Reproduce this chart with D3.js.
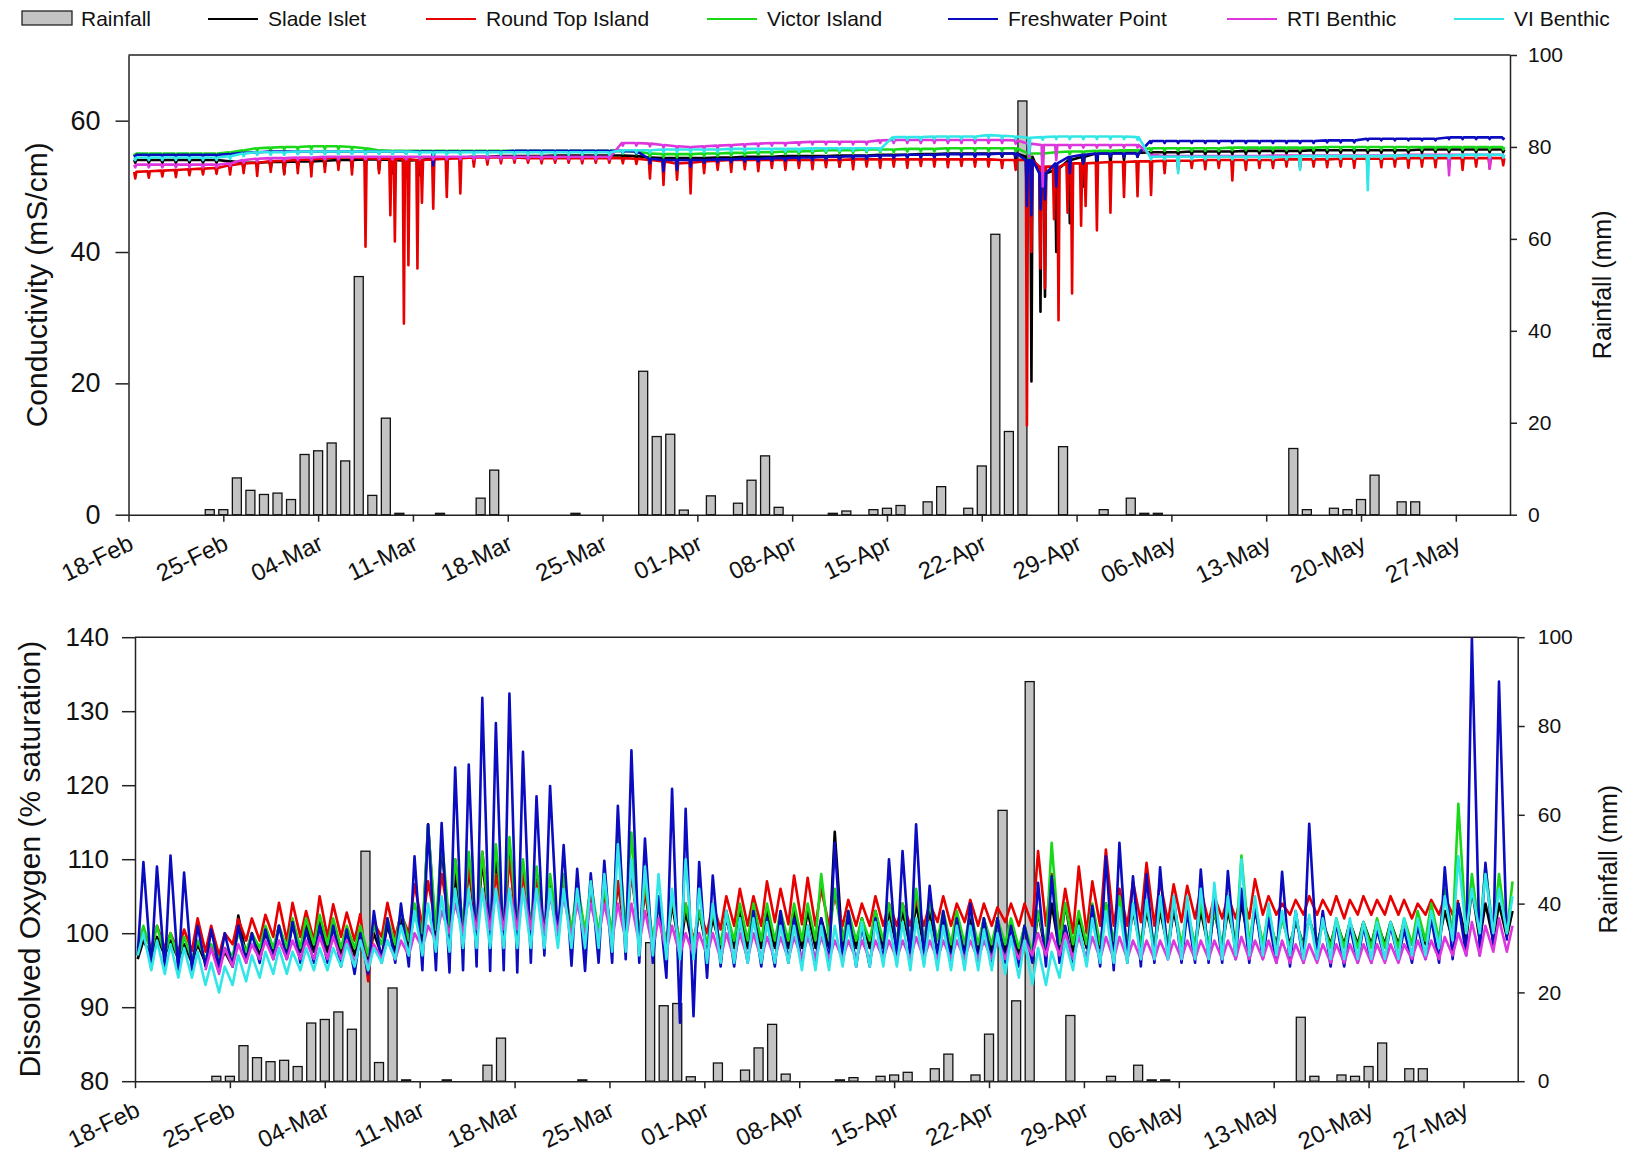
<!DOCTYPE html>
<html>
<head>
<meta charset="utf-8">
<script src="https://cdn.jsdelivr.net/npm/d3@7"></script>
<style>
  body { margin: 0; background: #fff; }
  svg { display: block; font-family: "Liberation Sans", Arial, sans-serif; }
</style>
</head>
<body>
<svg id="chart" width="1625" height="1157"></svg>
<script>
// ---------- time frame ----------
const START = "2019-02-18";
const END = "2019-05-31";
const tickDates = ["2019-02-18","2019-02-25","2019-03-04","2019-03-11","2019-03-18","2019-03-25",
  "2019-04-01","2019-04-08","2019-04-15","2019-04-22","2019-04-29","2019-05-06","2019-05-13",
  "2019-05-20","2019-05-27"];

// ---------- daily rainfall (mm) ----------
const rainDates = ["2019-02-24","2019-02-25","2019-02-26","2019-02-27","2019-02-28","2019-03-01","2019-03-02",
  "2019-03-03","2019-03-04","2019-03-05","2019-03-06","2019-03-07","2019-03-08","2019-03-09","2019-03-10",
  "2019-03-13","2019-03-16","2019-03-17","2019-03-23","2019-03-28","2019-03-29","2019-03-30","2019-03-31",
  "2019-04-02","2019-04-04","2019-04-05","2019-04-06","2019-04-07","2019-04-11","2019-04-12","2019-04-14",
  "2019-04-15","2019-04-16","2019-04-18","2019-04-19","2019-04-21","2019-04-22","2019-04-23","2019-04-24",
  "2019-04-25","2019-04-28","2019-05-01","2019-05-03","2019-05-04","2019-05-05","2019-05-15","2019-05-16",
  "2019-05-18","2019-05-19","2019-05-20","2019-05-21","2019-05-23","2019-05-24"];
const rainMM = [1.1,1.1,8.0,5.3,4.4,4.7,3.3,
  13.1,13.9,15.6,11.7,51.8,4.2,21.0,0.3,
  0.3,3.6,9.7,0.3,31.2,17.0,17.5,1.0,
  4.1,2.5,7.5,12.8,1.6,0.3,0.8,1.1,
  1.4,2.0,2.8,6.1,1.4,10.6,61.0,18.1,
  90.0,14.8,1.1,3.6,0.3,0.3,14.4,1.1,
  1.4,1.1,3.3,8.6,2.8,2.8];

// ---------- sites ----------
const siteNames = ["Slade Islet","Round Top Island","Victor Island","Freshwater Point","RTI Benthic","VI Benthic"];
const siteColors = ["#000000","#e80000","#18d818","#0b0bc0","#dc36dc","#30e6e6"];

// ---------- conductivity (mS/cm), one entry per day from 18-Feb ----------
// *Hi = daily upper level, *Lo = daily low(s) (several lows in a day given as a list)
const condSladeHi = [54.0,54.0,54.0,54.0,54.0,54.0,54.0, 53.8,53.6,53.6,53.7,53.7,53.8,53.8,
  53.9,54.0,54.0,54.1,54.1,54.0,53.9, 54.0,54.2,54.3,54.4,54.5,54.5,54.6,
  54.6,54.6,54.6,54.7,54.7,54.7,54.7, 54.7,54.7,54.6,54.4,54.3,54.3,54.3,
  54.3,54.4,54.4,54.5,54.5,54.5,54.6, 54.6,54.6,54.6,54.7,54.7,54.7,54.8,
  54.8,54.8,54.9,54.9,55.0,55.0,55.0, 55.0,55.0,55.0,54.5,52.0,52.5,54.0,
  54.5,55.0,55.0,55.1,55.1,55.2,55.2, 55.2,55.3,55.3,55.3,55.3,55.4,55.4,
  55.4,55.4,55.4,55.5,55.5,55.5,55.5, 55.5,55.5,55.5,55.5,55.6,55.6,55.6,
  55.6,55.6,55.6,55.6];
const condSladeLo = [53.6,53.6,53.6,53.6,53.6,53.6,53.6, 52.8,52.6,53.0,52.8,52.0,53.0,52.8,
  53.0,53.2,52.8,53.0,52.5,52.0,51.5, 51.7,53.0,53.5,53.8,54.0,54.0,54.1,
  54.1,54.1,54.2,54.2,54.2,54.2,54.2, 54.2,54.2,54.0,52.7,53.0,53.2,53.5,
  53.8,53.9,53.9,54.0,54.0,54.0,54.1, 54.1,54.1,54.0,53.0,54.2,54.2,54.3,
  54.3,54.3,54.4,54.4,54.5,54.5,54.5, 54.5,54.5,54.0,[47.7,20.3],[30.9,33.2],40.0,44.4,
  50.0,52.0,53.5,54.0,54.5,54.7,54.7, 54.8,54.8,54.8,54.9,54.9,54.9,55.0,
  55.0,55.0,55.0,55.0,55.1,55.1,55.1, 55.1,55.1,55.1,55.1,55.1,55.2,55.2,
  55.2,55.2,55.2,55.2];

const condRoundHi = [52.2,52.3,52.4,52.5,52.6,52.7,52.8, 53.2,53.5,53.6,53.8,53.9,54.0,54.1,
  54.3,54.4,54.4,54.3,54.2,54.2,54.1, 54.0,54.1,54.2,54.3,54.4,54.4,54.4,
  54.4,54.3,54.3,54.3,54.3,54.3,54.3, 54.3,54.3,54.2,54.0,53.8,53.5,53.6,
  53.8,53.9,54.0,54.0,54.0,54.0,54.0, 54.0,54.0,54.0,54.0,54.1,54.1,54.1,
  54.1,54.1,54.1,54.1,54.1,54.1,54.1, 54.1,54.0,54.0,54.0,53.0,53.0,53.5,
  53.5,53.6,53.7,53.7,53.8,53.8,53.9, 53.9,53.9,54.0,54.0,54.0,54.0,54.0,
  54.0,54.1,54.1,54.1,54.1,54.2,54.2, 54.2,54.2,54.2,54.3,54.3,54.3,54.3,
  54.3,54.3,54.3,54.3];
const condRoundLo = [51.2,51.3,51.5,51.4,51.7,51.8,51.9, 51.8,52.0,51.6,52.2,51.8,52.0,51.5,
  52.2,52.5,51.8,40.8,52.0,[45.6,41.6],[29.1,38.0], [37.5,47.5],46.6,48.4,48.9,53.0,53.3,53.5,
  53.6,53.6,53.5,53.6,53.6,53.5,53.6, 53.6,53.5,53.4,51.2,50.2,51.0,48.9,
  52.0,52.5,52.2,52.6,52.3,52.8,52.5, 52.8,52.6,52.9,53.0,52.6,53.0,52.8,
  53.0,52.8,53.1,53.0,52.9,53.1,53.0, 53.0,52.8,52.5,[13.6,40.0],[37.5,34.5],[45.0,29.6],[46.0,33.7],
  [44.0,47.0],43.3,46.0,48.4,48.5,48.7,52.0, 52.5,52.8,52.6,52.8,50.9,52.5,52.8,
  52.8,53.0,52.8,53.0,52.9,53.0,52.8, 53.0,52.9,53.0,52.8,53.0,52.9,53.0,
  52.5,53.0,52.7,53.2];

const condVictorHi = [55.0,55.0,55.0,55.0,55.0,55.0,55.0, 55.2,55.5,55.8,55.9,56.0,56.0,56.1,
  56.1,56.1,56.0,55.8,55.5,55.4,55.4, 55.4,55.4,55.4,55.4,55.4,55.4,55.4,
  55.4,55.4,55.4,55.4,55.4,55.4,55.4, 55.4,55.4,55.3,55.0,54.9,54.9,54.9,
  55.0,55.0,55.1,55.1,55.2,55.2,55.3, 55.3,55.4,55.5,55.5,55.5,55.6,55.6,
  55.6,55.7,55.7,55.7,55.8,55.8,55.8, 55.8,55.8,55.8,55.0,55.0,55.2,55.3,
  55.3,55.4,55.4,55.5,55.5,55.8,55.8, 55.8,55.8,55.8,55.8,55.9,55.9,55.9,
  55.9,55.9,55.9,55.9,56.0,56.0,56.0, 56.0,56.0,56.0,56.0,56.0,56.0,56.0,
  56.0,56.0,56.0,56.0];
const condVictorLo = [54.6,54.6,54.6,54.6,54.6,54.6,54.6, 54.8,55.1,55.4,55.5,55.6,55.6,55.7,
  55.7,55.7,55.6,55.4,55.1,55.0,55.0, 55.0,55.0,55.0,55.0,55.0,55.0,55.0,
  55.0,55.0,55.0,55.0,55.0,55.0,55.0, 55.0,55.0,54.9,54.5,54.4,54.4,54.4,
  54.6,54.6,54.7,54.7,54.8,54.8,54.9, 54.9,55.0,55.1,55.1,55.1,55.2,55.2,
  55.2,55.3,55.3,55.3,55.4,55.4,55.4, 55.4,55.4,55.3,53.0,54.0,54.7,54.9,
  54.9,55.0,55.0,55.1,55.1,55.4,55.4, 55.4,55.4,55.4,55.4,55.5,55.5,55.5,
  55.5,55.5,55.5,55.5,55.6,55.6,55.6, 55.6,55.6,55.6,55.6,55.6,55.6,55.6,
  55.6,55.6,55.6,55.6];

const condFreshHi = [54.8,54.8,54.8,54.8,54.8,54.8,54.8, 54.9,55.1,55.2,55.3,55.3,55.3,55.3,
  55.3,55.3,55.3,55.3,55.3,55.3,55.3, 55.3,55.3,55.3,55.3,55.3,55.3,55.3,
  55.4,55.4,55.4,55.4,55.4,55.4,55.4, 55.4,55.4,55.3,54.2,54.0,54.0,54.0,
  54.0,54.1,54.1,54.2,54.2,54.3,54.3, 54.4,54.4,54.5,54.5,54.6,54.6,54.7,
  54.7,54.8,54.8,54.8,54.9,54.9,54.9, 54.9,55.0,55.0,54.0,52.0,53.5,54.5,
  54.8,55.0,55.0,55.0,55.0,56.9,56.9, 56.9,56.9,56.9,56.9,56.9,56.9,56.9,
  56.9,56.9,56.9,56.9,57.0,57.0,57.0, 57.25,57.25,57.25,57.25,57.25,57.25,57.45,
  57.45,57.45,57.45,57.45];
const condFreshLo = [54.5,54.5,54.5,54.5,54.5,54.5,54.5, 54.6,54.8,54.9,55.0,55.0,55.0,55.0,
  55.0,55.0,55.0,55.0,55.0,55.0,55.0, 55.0,53.2,55.0,55.0,55.0,55.0,55.0,
  55.1,55.1,55.1,55.1,55.1,55.1,55.1, 55.1,55.1,55.0,53.5,52.3,52.5,53.0,
  53.6,53.7,53.7,53.8,53.8,53.9,53.9, 54.0,54.0,54.1,54.1,54.2,54.2,54.3,
  54.3,54.4,54.4,54.4,54.5,54.5,54.5, 54.5,54.6,54.5,[47.0,45.6],[46.5,48.0],50.0,52.0,
  53.5,54.0,54.5,54.5,54.5,56.6,56.6, 56.6,56.6,56.6,56.6,56.6,56.6,56.6,
  56.6,56.6,56.6,56.6,56.7,56.7,56.7, 57.0,57.0,57.0,57.0,57.0,57.0,57.2,
  57.2,57.2,57.2,57.2];

const condRTIHi = [53.3,53.3,53.3,53.3,53.3,53.3,53.3, 53.5,54.0,54.2,54.3,54.3,54.4,54.4,
  54.5,54.5,54.5,54.5,54.5,54.5,54.5, 54.5,54.5,54.5,54.5,54.5,54.5,54.5,
  54.5,54.5,54.5,54.5,54.5,54.5,54.5, 54.5,56.6,56.6,56.5,56.3,56.1,56.0,
  56.1,56.2,56.3,56.4,56.5,56.6,56.6, 56.7,56.8,56.8,56.8,56.8,56.8,57.0,
  57.05,57.05,57.05,57.05,57.05,57.05,57.05, 57.05,57.05,57.0,56.5,56.3,56.3,56.3,
  56.3,56.3,56.3,56.3,56.3,54.8,54.6, 54.6,54.6,54.6,54.6,54.6,54.6,54.6,
  54.7,54.7,54.7,54.7,54.7,54.7,54.7, 54.7,54.7,54.7,54.8,54.8,54.8,54.8,
  54.8,54.8,54.8,54.8];
const condRTILo = [52.9,52.9,52.9,52.9,52.9,52.9,52.9, 53.1,53.6,53.8,53.9,53.9,54.0,54.0,
  54.1,54.1,54.1,54.1,54.1,54.1,54.1, 54.1,54.1,54.1,54.1,54.1,54.1,54.1,
  54.1,54.1,54.1,54.1,54.1,54.1,54.1, 54.1,56.2,56.2,56.1,55.9,55.7,55.6,
  55.7,55.8,55.9,56.0,56.1,56.2,56.2, 56.3,56.4,56.4,56.4,56.4,56.4,56.6,
  56.6,56.6,56.6,56.6,56.6,56.6,56.6, 56.6,56.6,56.5,54.5,50.0,54.0,55.8,
  55.9,55.9,55.9,55.9,55.9,54.4,54.2, 54.2,54.2,54.2,54.2,54.2,54.2,54.2,
  54.3,54.3,54.3,54.3,54.3,54.3,54.3, 54.3,54.3,54.3,54.4,54.4,54.4,51.7,
  54.4,54.4,52.7,54.4];

const condVIHi = [54.4,54.4,54.4,54.4,54.4,54.4,54.4, 54.6,55.0,55.2,55.2,55.2,55.3,55.3,
  55.3,55.3,55.3,55.3,55.3,55.3,55.3, 55.2,55.2,55.2,55.2,55.2,55.2,55.2,
  55.2,55.2,55.2,55.2,55.2,55.2,55.2, 55.2,55.5,55.5,55.5,55.6,55.6,55.6,
  55.6,55.6,55.7,55.7,55.7,55.7,55.7, 55.7,55.8,55.8,55.8,55.8,55.8,55.8,
  57.5,57.5,57.5,57.6,57.6,57.6,57.6, 57.8,57.7,57.6,57.4,57.5,57.6,57.6,
  57.6,57.6,57.6,57.6,57.5,54.5,54.5, 54.5,54.5,54.5,54.5,54.5,54.5,54.5,
  54.5,54.5,54.6,54.6,54.6,54.6,54.6, 54.6,54.6,54.7,54.7,54.7,54.7,54.7,
  54.8,54.8,54.8,54.8];
const condVILo = [54.0,54.0,54.0,54.0,54.0,54.0,54.0, 54.2,54.6,54.8,54.8,54.8,54.9,54.9,
  54.9,54.9,54.9,54.9,54.9,54.9,54.9, 54.8,54.8,54.8,54.8,54.8,54.8,54.8,
  54.8,54.8,54.8,54.8,54.8,54.8,54.8, 54.8,55.1,55.1,55.1,55.2,55.2,55.2,
  55.2,55.2,55.3,55.3,55.3,55.3,55.3, 55.3,55.4,55.4,55.4,55.4,55.4,55.4,
  57.1,57.1,57.1,57.2,57.2,57.2,57.2, 57.4,57.3,57.2,55.0,57.1,57.2,57.2,
  57.2,57.2,57.2,57.2,57.1,54.1,54.1, 52.0,54.1,54.1,54.1,54.1,54.1,54.1,
  54.1,54.1,52.5,54.2,54.2,54.2,54.2, 49.4,54.2,54.3,54.3,54.3,54.3,54.3,
  54.4,54.4,54.4,54.4];

// ---------- dissolved oxygen (% saturation), daily peak and trough from 18-Feb ----------
const doSladePk = [99.0,99.5,99.0,98.5,98.5,98.0,97.5, 102.4,100.0,100.0,101.0,101.0,101.0,101.5,
  101.0,100.5,100.0,100.0,101.0,102.0,103.0, 114.7,112.0,108.0,109.0,110.0,110.0,111.0,
  109.0,108.0,107.0,107.0,106.0,106.0,106.0, 107.0,109.0,106.0,104.0,104.0,103.0,103.0,
  102.0,102.0,103.0,103.0,103.0,102.0,103.0, 103.0,102.0,113.7,102.0,102.0,103.0,103.0,
  103.0,104.0,103.0,102.0,102.0,102.0,102.0, 102.0,101.0,101.0,103.0,104.0,104.0,102.0,
  103.0,104.0,104.0,103.0,103.0,103.0,103.0, 103.0,103.0,103.0,103.0,104.0,103.0,102.0,
  102.0,101.5,102.0,101.5,101.5,101.5,101.5, 101.5,101.5,101.5,101.5,102.0,103.0,104.0,
  106.0,104.0,104.0,103.0];
const doSladeTr = [96.5,97.0,97.0,96.5,96.0,96.0,95.5, 95.5,97.0,97.0,97.5,97.5,97.5,97.5,
  97.5,97.0,97.0,96.5,97.0,97.5,98.0, 99.0,99.0,99.5,99.5,99.5,99.5,99.5,
  99.5,99.5,99.0,99.0,99.0,99.0,99.0, 99.0,99.0,98.5,98.0,97.5,97.5,97.5,
  97.5,98.0,98.0,98.0,98.0,98.0,98.0, 98.0,98.0,98.0,98.0,98.0,98.0,98.0,
  98.0,98.0,98.0,97.5,97.5,97.5,97.5, 97.5,97.5,97.0,96.5,97.0,97.5,97.5,
  98.0,98.0,98.0,98.0,98.0,98.0,98.0, 98.0,98.0,98.0,98.0,98.5,98.5,98.5,
  98.5,98.5,98.5,98.5,98.5,98.5,98.5, 98.5,98.5,98.5,98.5,98.5,99.0,99.0,
  99.0,99.0,99.0,99.5];

const doRoundPk = [100.0,101.0,100.0,100.5,102.0,101.0,100.0, 101.9,102.0,102.5,104.1,104.1,103.0,105.0,
  103.9,102.8,102.6,101.4,104.1,102.6,106.6, 107.0,108.0,110.0,109.0,111.0,108.0,110.0,
  108.0,107.0,106.0,107.0,106.0,105.0,105.0, 107.0,108.0,106.0,104.0,105.0,104.0,103.0,
  104.0,105.0,106.0,105.0,107.0,106.0,107.8, 107.5,106.0,105.0,104.5,104.0,105.0,104.0,
  104.0,104.5,104.0,105.0,104.0,104.5,104.0, 103.5,104.0,104.0,111.1,108.0,106.0,109.0,
  107.0,111.3,106.0,107.0,109.5,107.0,106.6, 106.4,106.0,105.0,105.0,105.5,107.3,105.0,
  104.0,104.5,105.0,104.5,105.0,104.5,105.0, 104.5,105.0,104.5,104.0,104.5,105.0,104.5,
  null,null,null,null];
const doRoundTr = [null,98.0,98.0,97.5,97.6,97.5,97.0, 98.5,99.0,99.0,99.5,99.0,99.5,99.0,
  99.5,99.5,99.0,93.5,99.5,99.5,100.0, 101.0,101.0,101.5,101.0,101.0,101.0,101.0,
  100.5,101.0,100.5,100.0,100.0,100.0,100.0, 100.0,100.0,99.5,99.0,98.5,98.5,99.0,
  100.0,100.5,101.0,101.0,101.0,101.5,101.2, 101.2,101.0,101.0,101.0,101.0,101.0,101.0,
  101.0,101.0,101.0,101.5,101.0,101.5,101.0, 101.0,101.5,101.0,101.0,101.0,100.5,100.0,
  100.0,101.0,101.0,101.0,101.5,101.0,101.5, 101.5,102.0,101.5,102.0,102.0,102.0,102.5,
  102.5,102.5,102.5,102.5,102.5,102.0,102.5, 102.5,102.5,102.5,102.0,102.5,102.5,102.5,
  null,null,null,null];

const doVictorPk = [101.0,101.0,100.0,99.5,99.0,98.5,98.0, 100.0,100.0,101.0,101.0,102.0,102.0,102.5,
  102.0,101.0,101.0,101.0,102.0,103.0,104.0, 114.5,113.0,110.0,111.0,111.0,112.0,113.0,
  110.0,109.0,108.0,108.0,107.0,107.0,106.0, 114.0,113.6,107.0,104.0,105.0,104.0,103.0,
  103.0,103.0,104.0,104.0,104.0,103.0,104.0, 104.0,108.0,106.0,103.0,102.0,103.0,104.0,
  104.0,106.0,104.0,103.0,103.0,103.0,102.0, 102.0,102.0,101.0,103.0,112.2,104.0,103.0,
  104.0,104.0,105.0,104.0,104.0,104.0,104.0, 103.0,104.0,103.0,104.0,110.5,104.0,103.0,
  102.0,102.0,102.0,101.5,102.0,101.5,101.5, 102.0,101.5,102.0,103.0,104.0,106.0,117.5,
  108.0,109.0,108.0,107.0];
const doVictorTr = [98.0,97.5,97.0,96.5,96.5,96.5,96.5, 97.0,97.5,98.0,98.0,98.0,98.0,98.5,
  98.5,98.0,98.0,97.0,98.5,98.5,99.0, 100.0,100.5,101.0,101.0,101.0,101.0,101.0,
  101.0,101.0,100.5,100.5,100.0,100.0,100.0, 100.0,100.0,99.5,99.0,98.5,98.5,98.5,
  98.5,98.5,99.0,99.0,99.0,99.0,99.0, 99.0,99.0,99.0,99.0,99.0,99.0,99.0,
  99.0,99.0,99.0,99.0,98.5,98.5,98.5, 98.5,98.5,98.0,97.5,98.0,98.5,98.5,
  98.5,98.5,99.0,98.5,98.5,98.5,98.5, 98.5,98.5,98.5,98.5,98.5,98.5,98.5,
  98.0,98.0,98.0,98.0,98.0,98.0,98.0, 98.0,98.0,98.0,98.5,99.0,99.0,100.0,
  100.0,100.0,100.0,100.0];

const doFreshPk = [109.6,109.0,110.5,108.2,101.0,100.5,100.0, 101.0,100.0,100.5,101.0,101.5,100.5,101.0,
  101.0,100.5,100.0,103.0,102.0,104.0,110.4, 114.7,114.9,122.4,122.8,131.8,128.4,132.4,
  124.5,118.5,119.9,111.9,108.7,108.1,109.8, 117.2,124.7,112.8,105.0,119.5,116.8,109.6,
  107.8,103.0,102.0,103.0,102.0,103.0,102.0, 101.0,102.0,112.2,103.0,101.0,102.0,110.0,
  111.1,114.7,106.4,103.0,102.0,104.0,102.0, 102.0,101.0,101.0,106.8,107.7,101.0,100.5,
  103.7,110.4,112.2,107.7,108.0,108.9,105.0, 103.0,108.6,105.0,108.4,106.0,104.0,102.0,
  108.3,103.0,114.8,103.0,101.5,101.0,101.0, 100.5,101.0,100.5,101.0,102.0,108.9,104.0,
  140.0,109.5,134.0,null];
const doFreshTr = [97.0,95.2,95.0,94.5,95.0,95.5,95.5, 95.5,96.0,96.0,96.5,96.5,96.0,96.0,
  96.0,95.5,94.5,94.5,96.0,96.0,95.5, 95.0,95.0,94.7,95.0,95.5,94.9,95.0,
  94.7,96.0,97.0,99.0,95.6,94.9,96.0, 96.0,96.5,96.0,96.0,94.0,87.9,88.8,
  94.0,95.5,95.5,96.0,95.5,95.5,96.0, 96.0,96.0,96.0,96.0,95.5,95.5,96.0,
  96.0,96.0,96.0,96.5,96.0,96.5,96.0, 96.0,96.0,95.5,96.0,95.5,96.0,96.0,
  96.0,95.5,95.0,96.0,95.5,96.0,96.5, 96.0,96.0,96.0,96.0,96.5,96.0,96.5,
  96.0,95.5,96.0,96.5,95.5,95.5,96.0, 96.0,96.5,96.5,96.0,96.5,96.0,96.5,
  97.0,97.0,98.0,99.0];

const doRTIPk = [null,null,null,null,null,98.0,98.0, 98.5,98.5,99.0,99.0,99.0,99.0,99.5,
  99.5,99.0,99.0,98.5,99.0,99.0,100.0, 101.0,103.0,104.0,105.0,106.0,106.0,106.0,
  106.0,106.0,105.0,105.0,104.0,104.0,104.0, 104.0,104.0,103.0,102.0,101.0,100.0,100.0,
  100.0,100.0,100.0,100.0,99.5,99.5,99.5, 99.5,99.5,99.0,99.0,99.0,99.0,99.0,
  99.0,99.5,99.0,99.0,99.0,99.0,99.0, 99.0,99.0,99.0,100.0,100.0,100.0,99.5,
  99.5,99.5,99.5,99.0,99.0,99.0,99.0, 99.0,99.0,99.0,99.0,99.5,99.0,99.0,
  99.0,98.5,98.5,98.5,98.5,98.5,98.5, 98.5,98.5,98.5,99.0,99.0,99.5,100.0,
  101.5,101.0,102.0,101.0];
const doRTITr = [null,null,null,null,null,95.0,94.5, 95.5,96.0,96.5,96.5,96.5,96.5,96.5,
  96.5,96.5,96.0,95.5,96.5,96.5,97.0, 98.0,99.0,100.0,100.0,100.5,100.5,100.5,
  100.5,100.5,100.0,100.0,99.5,99.5,99.5, 99.0,99.0,98.5,98.0,97.5,97.0,97.0,
  97.0,96.5,96.5,96.5,96.5,96.5,96.5, 96.5,96.5,96.5,96.5,96.5,96.5,96.5,
  96.5,96.5,96.5,96.5,96.5,96.5,96.5, 96.5,96.5,96.5,97.0,97.0,97.0,96.5,
  96.5,96.5,96.5,96.5,96.5,96.5,96.5, 96.5,96.5,96.5,96.5,96.5,96.5,96.5,
  96.0,96.0,96.0,96.0,96.0,96.0,96.0, 96.0,96.0,96.0,96.5,96.5,96.5,97.0,
  97.0,97.0,97.5,97.5];

const doVIPk = [100.0,99.0,98.5,98.0,97.5,96.0,95.5, 97.0,97.0,97.5,98.0,97.5,98.0,98.0,
  98.0,98.5,99.0,98.0,99.0,101.0,103.0, 104.0,105.0,106.0,106.0,106.0,106.0,106.0,
  106.0,106.0,106.0,106.0,106.0,107.0,108.0, 112.0,110.0,109.0,108.0,106.0,110.0,106.0,
  104.0,103.0,102.0,102.0,101.5,101.0,101.0, 101.0,101.0,101.0,101.0,101.5,101.5,101.5,
  101.5,102.0,101.5,101.0,101.0,101.0,100.5, 100.0,99.5,99.0,98.0,97.5,99.0,101.0,
  102.0,103.0,103.5,104.0,104.5,105.0,105.0, 105.0,106.0,106.8,105.0,110.0,105.0,104.0,
  103.0,103.0,102.5,102.0,102.0,102.0,101.5, 101.5,101.5,102.0,102.0,103.0,105.0,110.4,
  106.0,108.0,106.0,105.0];
const doVITr = [97.0,95.0,94.5,94.0,94.0,93.0,92.0, 93.0,93.5,94.0,94.5,94.5,95.0,95.0,
  95.0,95.5,95.5,95.0,96.0,96.5,97.0, 97.0,97.5,97.5,98.0,98.0,98.0,98.0,
  98.0,98.0,98.0,98.0,98.0,98.0,98.0, 97.5,97.5,97.0,97.0,96.5,96.5,96.5,
  96.0,96.0,96.0,96.0,96.0,96.0,96.0, 95.0,95.0,95.0,95.5,95.5,95.5,95.5,
  95.5,95.0,95.5,95.0,95.0,95.0,95.0, 95.0,94.5,94.0,93.1,93.0,94.0,95.0,
  95.5,96.0,96.0,96.0,96.5,96.5,96.5, 96.5,96.5,96.5,96.5,97.0,97.0,97.0,
  97.0,97.0,96.5,96.5,96.5,96.5,96.5, 96.5,96.5,96.5,97.0,97.0,98.0,99.0,
  100.0,100.0,100.0,100.0];

// ---------- drawing ----------
const svg = d3.select("#chart");
const day0 = new Date(START).getTime();
const atDay = d => new Date(day0 + d * 864e5);
const fmt = d3.utcFormat("%d-%b");

const condSeries = [
  [condSladeHi, condSladeLo], [condRoundHi, condRoundLo], [condVictorHi, condVictorLo],
  [condFreshHi, condFreshLo], [condRTIHi, condRTILo], [condVIHi, condVILo]
];
const doSeries = [
  [doSladePk, doSladeTr], [doRoundPk, doRoundTr], [doVictorPk, doVictorTr],
  [doFreshPk, doFreshTr], [doRTIPk, doRTITr], [doVIPk, doVITr]
];

// conductivity: level line with narrow downward excursions at each daily low
function levelPoints(hi, lo) {
  const pts = [];
  hi.forEach((h, d) => {
    if (h == null) { pts.push(null); return; }
    const lows = Array.isArray(lo[d]) ? lo[d] : [lo[d]];
    lows.forEach((v, i) => {
      const t = d + (i + 1) / (lows.length + 1);
      pts.push([t - 0.08, h], [t, v], [t + 0.08, h]);
    });
  });
  return pts;
}
// oxygen: morning trough then afternoon peak for each day
function cyclePoints(pk, tr) {
  const pts = [];
  pk.forEach((p, d) => {
    pts.push(tr[d] == null ? null : [d + 0.2, tr[d]]);
    pts.push(p == null ? null : [d + 0.62, p]);
  });
  return pts;
}

function drawPanel(cfg) {
  const g = svg.append("g");
  const x = d3.scaleUtc().domain([new Date(START), new Date(END)]).range([cfg.left, cfg.right]);
  const y = d3.scaleLinear().domain(cfg.yDomain).range([cfg.bottom, cfg.top]);
  const yR = d3.scaleLinear().domain([0, 100]).range([cfg.bottom, cfg.top]);

  const clipId = "clip-" + cfg.id;
  svg.append("clipPath").attr("id", clipId).append("rect")
    .attr("x", cfg.left).attr("y", cfg.top)
    .attr("width", cfg.right - cfg.left).attr("height", cfg.bottom - cfg.top);

  // rainfall bars
  const rain = rainDates.map((d, i) => ({ date: new Date(d), mm: rainMM[i] }));
  g.append("g").selectAll("rect").data(rain).join("rect")
    .attr("x", d => x(d.date) - 4.5)
    .attr("width", 9)
    .attr("y", d => yR(d.mm))
    .attr("height", d => yR(0) - yR(d.mm))
    .attr("fill", "#c3c3c3")
    .attr("stroke", "#111")
    .attr("stroke-width", 1.3);

  // site lines
  const line = d3.line()
    .defined(p => p != null)
    .x(p => x(atDay(p[0])))
    .y(p => y(p[1]));
  const lines = g.append("g").attr("clip-path", `url(#${clipId})`);
  cfg.series.forEach((s, i) => {
    lines.append("path")
      .attr("d", line(cfg.points(s[0], s[1])))
      .attr("fill", "none")
      .attr("stroke", siteColors[i])
      .attr("stroke-width", cfg.lineWidth)
      .attr("stroke-linejoin", "round");
  });

  // frame top
  g.append("line").attr("x1", cfg.left).attr("x2", cfg.right)
    .attr("y1", cfg.top).attr("y2", cfg.top)
    .attr("stroke", "#222").attr("stroke-width", 1.5);

  // left axis
  const ax = g.append("g").attr("transform", `translate(${cfg.left},0)`)
    .call(d3.axisLeft(y).tickValues(cfg.yTicks).tickSize(13).tickSizeOuter(0).tickPadding(cfg.leftPad));
  ax.selectAll("text").attr("font-size", cfg.leftFont).attr("fill", "#111");

  // right axis
  const ar = g.append("g").attr("transform", `translate(${cfg.right},0)`)
    .call(d3.axisRight(yR).tickValues([0, 20, 40, 60, 80, 100]).tickSize(7).tickSizeOuter(0).tickPadding(cfg.rightPad));
  ar.selectAll("text").attr("font-size", 21).attr("fill", "#111");

  // bottom axis
  const ab = g.append("g").attr("transform", `translate(0,${cfg.bottom})`)
    .call(d3.axisBottom(x).tickValues(tickDates.map(d => new Date(d))).tickFormat(fmt).tickSize(7).tickSizeOuter(0));
  ab.selectAll("text")
    .attr("font-size", 24).attr("fill", "#111")
    .attr("text-anchor", "end")
    .attr("x", 0).attr("y", 0).attr("dy", 0)
    .attr("transform", "translate(6,34) rotate(-26)");

  [ax, ar, ab].forEach(a => {
    a.selectAll("path, line").attr("stroke", "#222").attr("stroke-width", 1.5);
    a.attr("font-family", "Liberation Sans, Arial, sans-serif");
  });

  // axis titles
  g.append("text")
    .attr("transform", `translate(${cfg.leftTitleX},${(cfg.top + cfg.bottom) / 2}) rotate(-90)`)
    .attr("text-anchor", "middle").attr("font-size", 30).attr("fill", "#111")
    .text(cfg.leftTitle);
  g.append("text")
    .attr("transform", `translate(${cfg.rightTitleX},${(cfg.top + cfg.bottom) / 2}) rotate(-90)`)
    .attr("text-anchor", "middle").attr("font-size", 25).attr("fill", "#111")
    .text("Rainfall (mm)");
}

drawPanel({
  id: "cond", left: 128.5, right: 1510, top: 55, bottom: 514.7,
  yDomain: [0, 70], yTicks: [0, 20, 40, 60], leftFont: 27, leftPad: 15, rightPad: 11,
  leftTitle: "Conductivity (mS/cm)", leftTitleX: 47, rightTitleX: 1611,
  series: condSeries, points: levelPoints, lineWidth: 2.6
});
drawPanel({
  id: "do", left: 135, right: 1517.7, top: 637.2, bottom: 1081.2,
  yDomain: [80, 140], yTicks: [80, 90, 100, 110, 120, 130, 140], leftFont: 26, leftPad: 13, rightPad: 13,
  leftTitle: "Dissolved Oxygen (% saturation)", leftTitleX: 40, rightTitleX: 1617,
  series: doSeries, points: cyclePoints, lineWidth: 2.6
});

// ---------- legend ----------
const legend = svg.append("g").attr("font-size", 21).attr("fill", "#111");
legend.append("rect").attr("x", 22).attr("y", 11).attr("width", 50).attr("height", 14)
  .attr("fill", "#c3c3c3").attr("stroke", "#222").attr("stroke-width", 1.3);
legend.append("text").attr("x", 81).attr("y", 26).text("Rainfall");
const legendLineX = [208, 426, 707, 948, 1227, 1454];
siteNames.forEach((name, i) => {
  legend.append("line")
    .attr("x1", legendLineX[i]).attr("x2", legendLineX[i] + 50)
    .attr("y1", 19).attr("y2", 19)
    .attr("stroke", siteColors[i]).attr("stroke-width", 2.2);
  legend.append("text").attr("x", legendLineX[i] + 60).attr("y", 26).text(name);
});
</script>
</body>
</html>
